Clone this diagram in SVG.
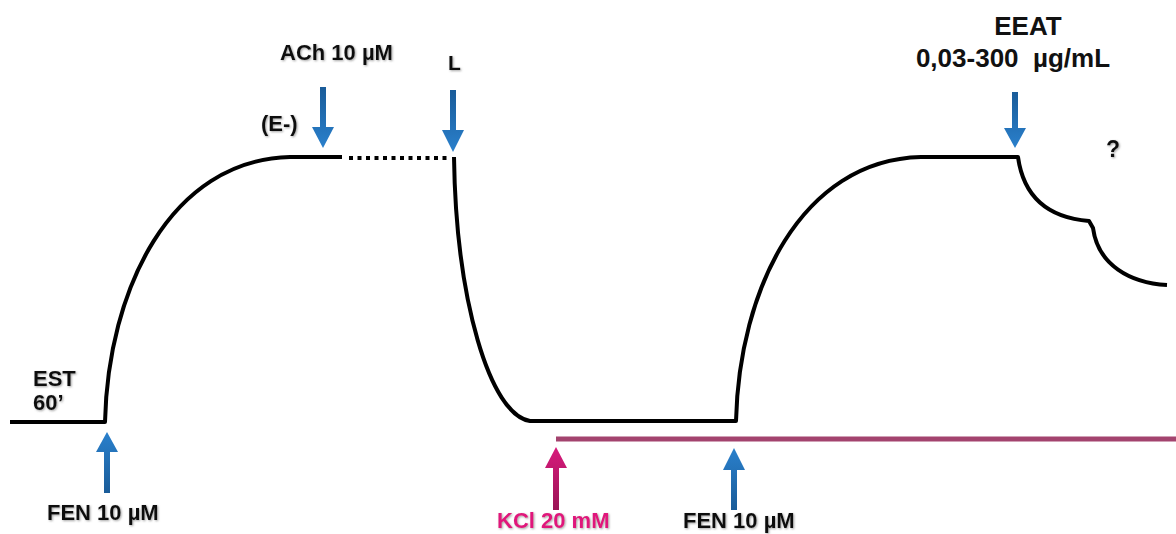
<svg xmlns="http://www.w3.org/2000/svg" width="1176" height="534" viewBox="0 0 1176 534">
<defs>
<style>
.t{font-family:"Liberation Sans",Arial,sans-serif;font-weight:bold;font-size:22px;fill:#111;}
.k{fill:#e0187c;}
.trace{fill:none;stroke:#000;stroke-width:4;stroke-linejoin:round;}
</style>
<filter id="sh" x="-10%" y="-20%" width="130%" height="150%">
<feDropShadow dx="1" dy="1" stdDeviation="0.8" flood-color="#666" flood-opacity="0.6"/>
</filter>
<linearGradient id="bg" x1="0" y1="0" x2="0" y2="1">
<stop offset="0" stop-color="#1a5c99"/><stop offset="1" stop-color="#2a80cc"/>
</linearGradient>
<linearGradient id="bgu" x1="0" y1="1" x2="0" y2="0">
<stop offset="0" stop-color="#1a5c99"/><stop offset="1" stop-color="#2a80cc"/>
</linearGradient>
<linearGradient id="mg" x1="0" y1="1" x2="0" y2="0">
<stop offset="0" stop-color="#9a1455"/><stop offset="1" stop-color="#d81a7c"/>
</linearGradient>
</defs>

<g id="connectors">
<path class="trace" d="M10,422 L105,422 C108,290 170,160 290,157 L342,157"/>
<line x1="349" y1="158" x2="450" y2="158" stroke="#000" stroke-width="4" stroke-dasharray="4,4.5"/>
<path class="trace" d="M454,157 C456,300 490,415 530,421 L736,421 C739,290 801,160 921,157 L1018,157 C1024,200 1052,218 1089,221 L1093,228 C1098,265 1130,283 1167,285"/>
<line x1="556" y1="439" x2="1176" y2="439" stroke="#a3436e" stroke-width="5"/>
</g>

<g id="fen1">
<polygon fill="url(#bgu)" points="107,432 118,452 110,452 110,493 104,493 104,452 96,452"/>
<text class="t" x="47" y="520" filter="url(#sh)">FEN 10 µM</text>
</g>

<g id="est">
<text class="t" x="33" y="386" filter="url(#sh)">EST</text>
<text class="t" x="33" y="410" filter="url(#sh)">60’</text>
</g>

<g id="ach">
<polygon fill="url(#bg)" points="323,148 334,127 326,127 326,87 320,87 320,127 312,127"/>
<text class="t" x="280" y="60" filter="url(#sh)">ACh 10 µM</text>
</g>

<g id="eminus">
<text class="t" x="261" y="131" style="font-size:22px" filter="url(#sh)">(E-)</text>
</g>

<g id="l">
<polygon fill="url(#bg)" points="453,152 464,130 456,130 456,90 450,90 450,130 442,130"/>
<text class="t" x="448" y="70" style="font-size:21px" filter="url(#sh)">L</text>
</g>

<g id="kcl">
<polygon fill="url(#mg)" points="556,447 567,468 559,468 559,510 553,510 553,468 545,468"/>
<text class="t k" x="497" y="528" filter="url(#sh)">KCl 20 mM</text>
</g>

<g id="fen2">
<polygon fill="url(#bgu)" points="734,448 745,470 737,470 737,510 731,510 731,470 723,470"/>
<text class="t" x="683" y="528" filter="url(#sh)">FEN 10 µM</text>
</g>

<g id="eeat">
<polygon fill="url(#bg)" points="1015,148 1026,128 1018,128 1018,92 1012,92 1012,128 1004,128"/>
<text class="t" x="1028" y="35" text-anchor="middle" style="font-size:26px">EEAT</text>
<text class="t" x="1013" y="67" text-anchor="middle" style="font-size:26px;white-space:pre" xml:space="preserve">0,03-300  µg/mL</text>
</g>

<g id="question">
<text class="t" x="1106" y="157" style="font-size:23px" filter="url(#sh)">?</text>
</g>
</svg>
